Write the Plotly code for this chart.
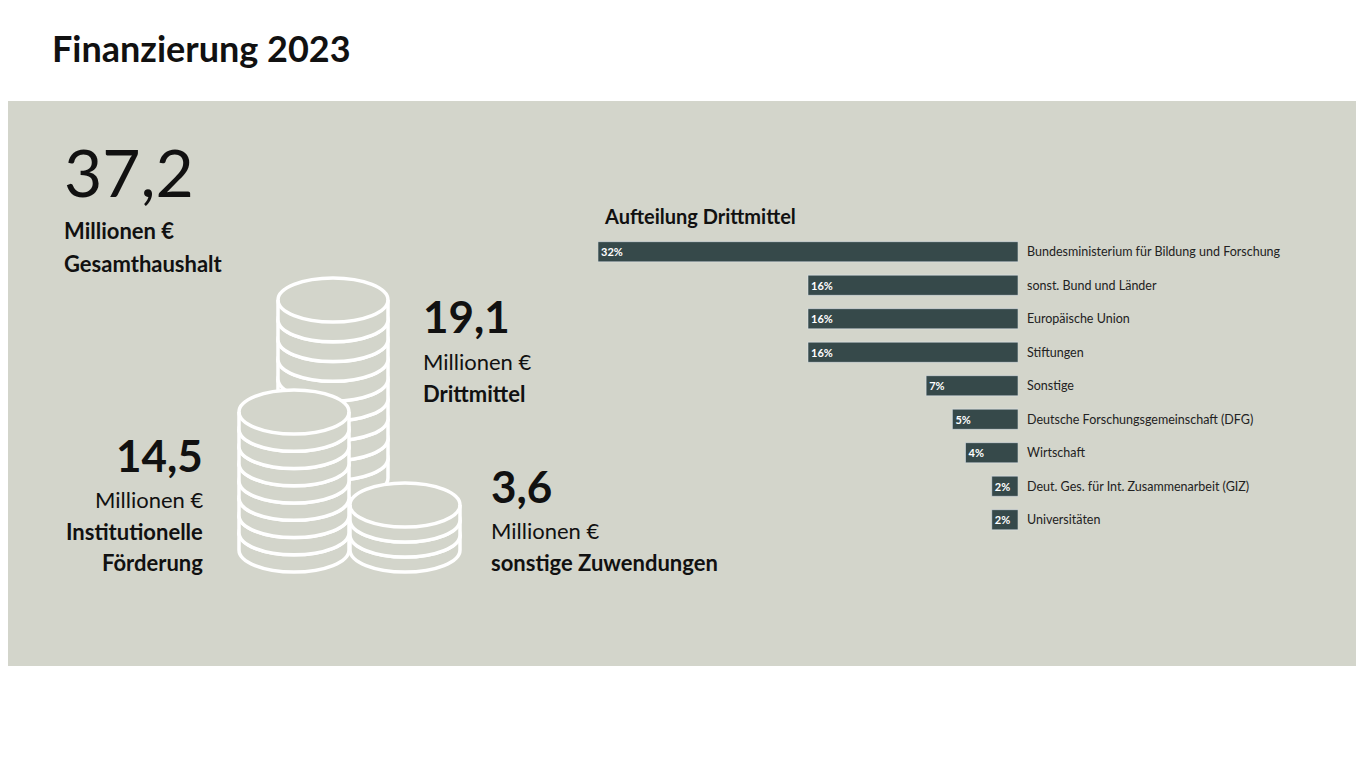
import plotly.graph_objects as go

W, H = 1364, 768
categories = ["Bundesministerium für Bildung und Forschung", "sonst. Bund und Länder",
              "Europäische Union", "Stiftungen", "Sonstige",
              "Deutsche Forschungsgemeinschaft (DFG)", "Wirtschaft",
              "Deut. Ges. für Int. Zusammenarbeit (GIZ)", "Universitäten"]
shares = [32, 16, 16, 16, 7, 5, 4, 2, 2]
share_labels = ["<b>32%</b>", "<b>16%</b>", "<b>16%</b>", "<b>16%</b>", "<b>7%</b>",
                "<b>5%</b>", "<b>4%</b>", "<b>2%</b>", "<b>2%</b>"]

BG = "#d3d5cb"
BAR = "#36494a"
FONT = "Lato, Open Sans, sans-serif"
OFF = 8  # page body margin offset

def px(x): return (x - OFF) / W
def py(y): return 1 - (y - OFF) / H

fig = go.Figure(go.Bar(
    x=shares, y=categories, orientation="h", marker_color=BAR,
    text=share_labels, textposition="inside", insidetextanchor="end",
    textfont=dict(color="white", size=11, family=FONT), textangle=0,
    hoverinfo="skip"))

fig.update_layout(
    width=W, height=H, margin=dict(l=0, r=0, t=0, b=0),
    paper_bgcolor="white", plot_bgcolor="rgba(0,0,0,0)", showlegend=False,
    bargap=0.4, font=dict(family=FONT, color="#111"),
    xaxis=dict(domain=[px(598), px(1018)], range=[32, 0], visible=False, fixedrange=True),
    yaxis=dict(domain=[py(536.5), py(235)], autorange="reversed", side="right",
               showgrid=False, zeroline=False, showline=False, ticks="",
               tickfont=dict(size=12.5, color="#222", family=FONT), ticklabelstandoff=8),
    uniformtext=dict(minsize=8, mode="show"))

shapes = [dict(type="rect", xref="paper", yref="paper", x0=-0.01, x1=1.01, y0=py(666), y1=py(101),
               fillcolor=BG, line_width=0, layer="below")]

K = 0.5523
def P(x, y): return f"{px(x):.5f},{py(y):.5f}"

def coin_layer(cx, y0, a, b, t):
    y1 = y0 + t
    d = (f"M{P(cx-a,y0)} C{P(cx-a,y0-K*b)} {P(cx-K*a,y0-b)} {P(cx,y0-b)} "
         f"C{P(cx+K*a,y0-b)} {P(cx+a,y0-K*b)} {P(cx+a,y0)} L{P(cx+a,y1)} "
         f"C{P(cx+a,y1+K*b)} {P(cx+K*a,y1+b)} {P(cx,y1+b)} "
         f"C{P(cx-K*a,y1+b)} {P(cx-a,y1+K*b)} {P(cx-a,y1)} Z")
    out = [dict(type="path", xref="paper", yref="paper", path=d, fillcolor=BG,
                line=dict(color="white", width=3.5))]
    f = (f"M{P(cx-a,y0)} C{P(cx-a,y0+K*b)} {P(cx-K*a,y0+b)} {P(cx,y0+b)} "
         f"C{P(cx+K*a,y0+b)} {P(cx+a,y0+K*b)} {P(cx+a,y0)}")
    out.append(dict(type="path", xref="paper", yref="paper", path=f,
                    line=dict(color="white", width=3.5)))
    return out

def stack(cx, ytop, ybottom, n, a=55, b=22):
    t = (ybottom - ytop) / n
    res = []
    for i in range(n - 1, -1, -1):
        res += coin_layer(cx, ytop + i * t, a, b, t)
    return res

shapes += stack(333, 300, 478, 9)
shapes += stack(294, 412, 550, 8)
shapes += stack(405, 505, 550, 3)
fig.update_layout(shapes=shapes)

def txt(x, y, s, size, bold=False, xanchor="left", color="#111"):
    fig.add_annotation(x=px(x), y=py(y), xref="paper", yref="paper", text=f"<b>{s}</b>" if bold else s,
                       showarrow=False, xanchor=xanchor, yanchor="middle",
                       font=dict(size=size, color=color, family=FONT))

txt(50, 48, "Finanzierung 2023", 36, True)
txt(62, 172, "37,2", 66)
txt(62, 231, "Millionen €", 22, True)
txt(62, 263, "Gesamthaushalt", 22, True)
txt(421, 316, "19,1", 44, True)
txt(421, 361, "Millionen €", 22)
txt(421, 393, "Drittmittel", 22, True)
txt(205, 455, "14,5", 44, True, "right")
txt(205, 499, "Millionen €", 22, False, "right")
txt(205, 531, "Institutionelle", 22, True, "right")
txt(205, 562, "Förderung", 22, True, "right")
txt(489, 486, "3,6", 44, True)
txt(489, 530, "Millionen €", 22)
txt(489, 562, "sonstige Zuwendungen", 22, True)
txt(602, 216, "Aufteilung Drittmittel", 20, True)

fig.write_html("out.html")
